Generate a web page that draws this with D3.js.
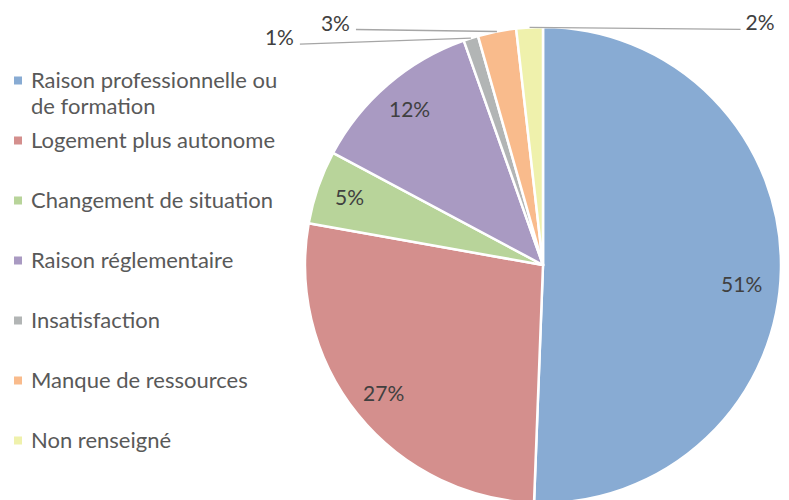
<!DOCTYPE html>
<html>
<head>
<meta charset="utf-8">
<script src="https://cdn.jsdelivr.net/npm/d3@7"></script>
<style>
  body { margin: 0; background: #fff; }
  text { font-family: Lato, "Open Sans", sans-serif; }
</style>
</head>
<body>
<div id="chart"></div>
<script>
(function () {
// data (percent of total)
var categories = ["Raison professionnelle ou de formation", "Logement plus autonome", "Changement de situation",
  "Raison réglementaire", "Insatisfaction", "Manque de ressources", "Non renseigné"];
var values = [50.6, 27.2, 5.0, 11.8, 1.0, 2.6, 1.8];
var colors = ["#88abd3", "#d48f8d", "#b8d49a", "#a99ac2", "#b2b5b5", "#f9bb8c", "#eff1ac"];

// labels of the three thin slices sit outside with a leader line
var outside = { 4: { dx: -171, dy: 6, anchor: "end" }, 5: { dx: -141, dy: -2, anchor: "end" }, 6: { dx: 211, dy: 2, anchor: "start" } };
var nudge = { 0: [-6, 16] };

var W = 789, H = 500;
var cx = 543, cy = 265, R = 238;

var svg = d3.select("#chart").append("svg").attr("width", W).attr("height", H);

var data = categories.map(function (c, i) { return { name: c, value: values[i], i: i }; });
var total = d3.sum(values);

var pie = d3.pie().sort(null).value(function (d) { return d.value; });
var arcs = pie(data);
var arc = d3.arc().innerRadius(0).outerRadius(R);
var labelArc = d3.arc().innerRadius(R * 0.86).outerRadius(R * 0.86);
var edgeArc = d3.arc().innerRadius(R).outerRadius(R);

var g = svg.append("g").attr("transform", "translate(" + cx + "," + cy + ")");

g.selectAll("path.slice").data(arcs).enter().append("path")
  .attr("class", "slice")
  .attr("d", arc)
  .attr("fill", function (d) { return colors[d.data.i]; })
  .attr("stroke", "#fff")
  .attr("stroke-width", 2.5)
  .attr("stroke-linejoin", "round");

var pct = function (d) { return Math.round(d.data.value / total * 100) + "%"; };

arcs.forEach(function (d) {
  var i = d.data.i;
  if (outside[i]) {
    var o = outside[i];
    var p = edgeArc.centroid(d);
    var q = [p[0] + o.dx, p[1] + o.dy];
    g.append("line")
      .attr("x1", p[0]).attr("y1", p[1]).attr("x2", q[0]).attr("y2", q[1])
      .attr("stroke", "#a6a6a6").attr("stroke-width", 1.3);
    g.append("text")
      .attr("x", q[0] + (o.anchor == "end" ? -6 : 5))
      .attr("y", q[1] + 1)
      .attr("text-anchor", o.anchor)
      .attr("font-size", "21px")
      .attr("fill", "#404040")
      .text(pct(d));
  } else {
    var c = labelArc.centroid(d);
    var n = nudge[i] || [0, 0];
    g.append("text")
      .attr("x", c[0] + n[0]).attr("y", c[1] + n[1])
      .attr("dy", "0.35em")
      .attr("text-anchor", "middle")
      .attr("font-size", "21px")
      .attr("fill", "#404040")
      .text(pct(d));
  }
});

// legend
var legend = svg.append("g").attr("transform", "translate(14,0)");
var maxW = 268;

data.forEach(function (d, i) {
  var y = 80 + i * 60;
  legend.append("rect")
    .attr("x", 0).attr("y", y - 3.5).attr("width", 8).attr("height", 8)
    .attr("fill", colors[i]);
  var t = legend.append("text")
    .attr("x", 17).attr("y", y)
    .attr("dy", "0.35em")
    .attr("font-size", "22px")
    .attr("fill", "#595959");
  // simple word wrap
  var words = d.name.split(" "), line = [];
  var ts = t.append("tspan").attr("x", 17);
  words.forEach(function (w) {
    line.push(w);
    ts.text(line.join(" "));
    if (ts.node().getComputedTextLength() > maxW && line.length > 1) {
      line.pop();
      ts.text(line.join(" "));
      line = [w];
      ts = t.append("tspan").attr("x", 17).attr("dy", "1.2em").text(w);
    }
  });
});
})();
</script>
</body>
</html>
